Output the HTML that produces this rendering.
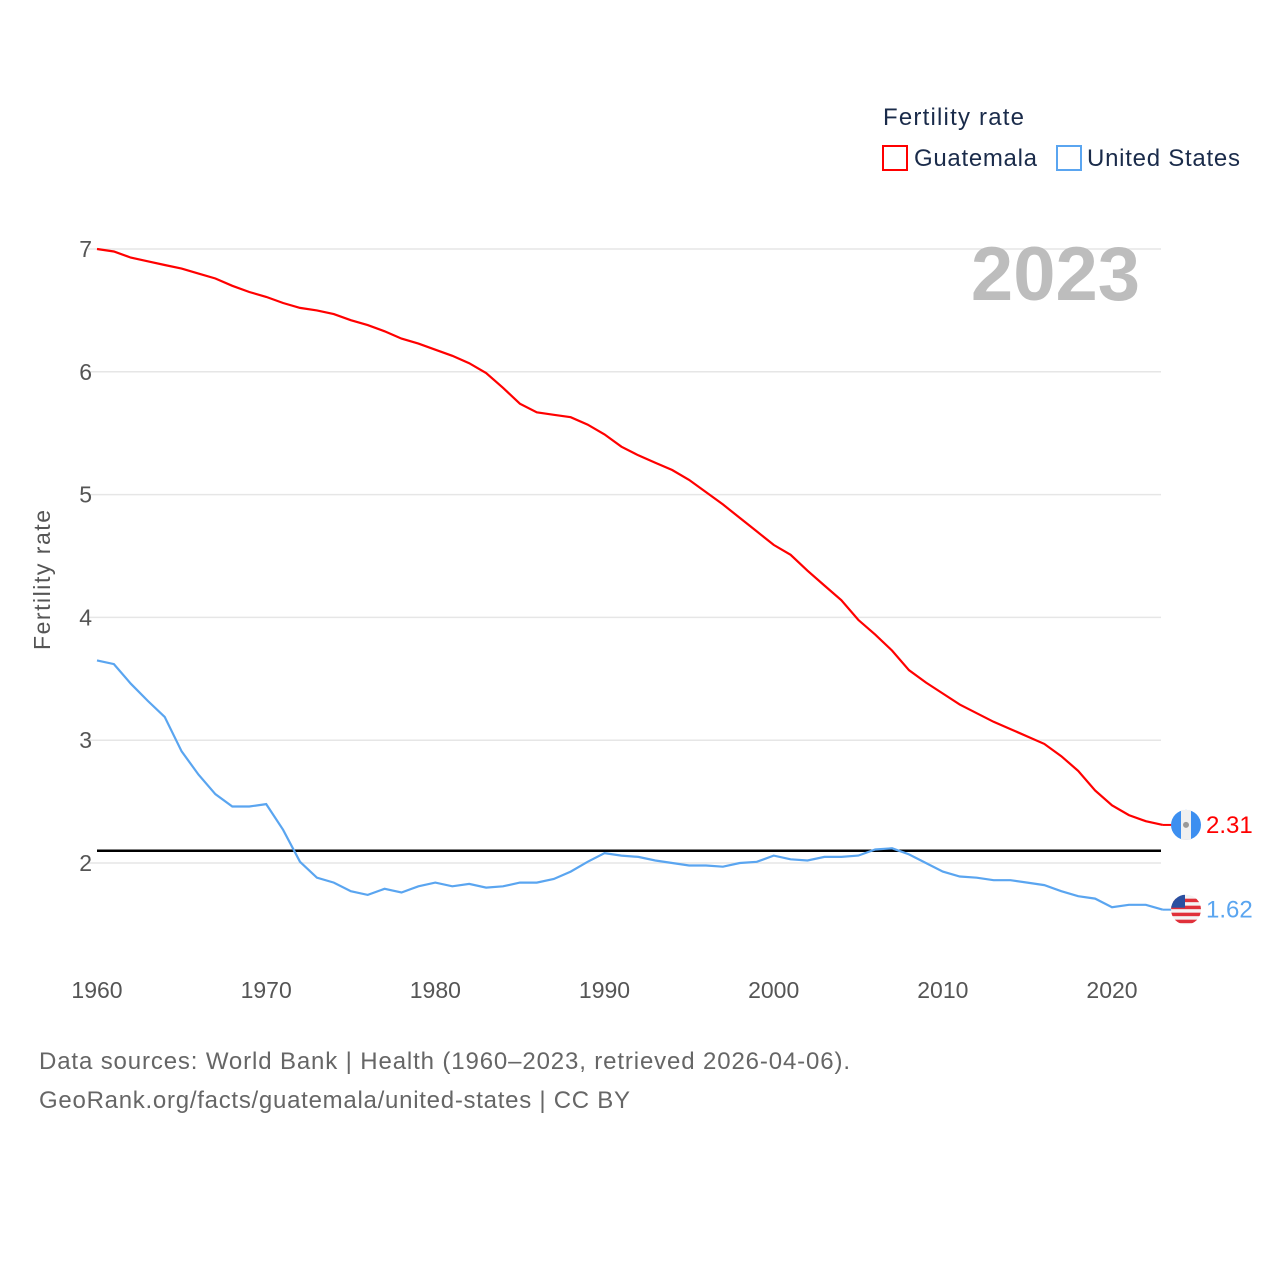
<!DOCTYPE html>
<html><head><meta charset="utf-8"><style>
body{margin:0;background:#fff;font-family:"Liberation Sans",sans-serif}
svg text{font-family:"Liberation Sans",sans-serif}
</style></head><body>
<svg width="1280" height="1280" viewBox="0 0 1280 1280">
<defs><clipPath id="usclip"><circle cx="1186" cy="909" r="15"/></clipPath></defs>
<g id="grid"></g>
<g id="yt"></g>
<g id="xt"></g>
<text transform="translate(50,580) rotate(-90)" text-anchor="middle" font-size="23" fill="#555" textLength="140">Fertility rate</text>
<text x="1140" y="300" text-anchor="end" font-size="76" font-weight="bold" fill="#bdbdbd">2023</text>
<text x="883" y="125" font-size="24" fill="#1a2b4a" textLength="141">Fertility rate</text>
<g><rect x="883" y="146" width="24" height="24" fill="none" stroke="#f00" stroke-width="2"/><text x="914" y="166" font-size="24" fill="#1a2b4a" textLength="123">Guatemala</text></g>
<g><rect x="1057" y="146" width="24" height="24" fill="none" stroke="#5aa5f0" stroke-width="2"/><text x="1087" y="166" font-size="24" fill="#1a2b4a" textLength="153">United States</text></g>
<line id="ref" stroke="#000" stroke-width="2.5"/>
<path id="gt" fill="none" stroke="#f00" stroke-width="2.2"/>
<path id="us" fill="none" stroke="#5aa5f0" stroke-width="2.2"/>
<g id="ends"></g>
<text x="39" y="1069" font-size="24" fill="#666" textLength="811">Data sources: World Bank | Health (1960–2023, retrieved 2026-04-06).</text>
<text x="39" y="1108" font-size="24" fill="#666" textLength="591">GeoRank.org/facts/guatemala/united-states | CC BY</text>
</svg>
<script>
const years=[];for(let y=1960;y<=2023;y++)years.push(y);
const guatemala=[7.0,6.98,6.93,6.90,6.87,6.84,6.80,6.76,6.70,6.65,6.61,6.56,6.52,6.50,6.47,6.42,6.38,6.33,6.27,6.23,6.18,6.13,6.07,5.99,5.87,5.74,5.67,5.65,5.63,5.57,5.49,5.39,5.32,5.26,5.20,5.12,5.02,4.92,4.81,4.70,4.59,4.51,4.38,4.26,4.14,3.98,3.86,3.73,3.57,3.47,3.38,3.29,3.22,3.15,3.09,3.03,2.97,2.87,2.75,2.59,2.47,2.39,2.34,2.31];
const unitedStates=[3.65,3.62,3.46,3.32,3.19,2.91,2.72,2.56,2.46,2.46,2.48,2.27,2.01,1.88,1.84,1.77,1.74,1.79,1.76,1.81,1.84,1.81,1.83,1.80,1.81,1.84,1.84,1.87,1.93,2.01,2.08,2.06,2.05,2.02,2.00,1.98,1.98,1.97,2.00,2.01,2.06,2.03,2.02,2.05,2.05,2.06,2.11,2.12,2.07,2.00,1.93,1.89,1.88,1.86,1.86,1.84,1.82,1.77,1.73,1.71,1.64,1.66,1.66,1.62];
const yTicks=[2,3,4,5,6,7];
const xTicks=[1960,1970,1980,1990,2000,2010,2020];
const refValue=2.1;
const X=y=>97+(y-1960)*(1112-97)/60;
const Y=v=>863-(v-2)*(863-249)/5;
const NS="http://www.w3.org/2000/svg";
function mk(t,a,p){const e=document.createElementNS(NS,t);for(const k in a)e.setAttribute(k,a[k]);p.appendChild(e);return e;}
const grid=document.getElementById('grid'),yt=document.getElementById('yt'),xt=document.getElementById('xt');
yTicks.forEach(v=>{
 const l=mk('line',{x1:88,x2:1161,y1:Y(v),y2:Y(v),stroke:'#e6e6e6','stroke-width':1.5},grid);
 
 
 const t=mk('text',{x:92,y:Y(v)+8,'text-anchor':'end','font-size':23,fill:'#555'},yt);t.textContent=v;
 
 
});
xTicks.forEach(v=>{
 const t=mk('text',{x:X(v),y:998,'text-anchor':'middle','font-size':23,fill:'#555'},xt);t.textContent=v;
 
 
});
const ref=document.getElementById('ref');
ref.setAttribute('x1',97);ref.setAttribute('x2',1161);ref.setAttribute('y1',Y(refValue));ref.setAttribute('y2',Y(refValue));
const path=a=>a.map((v,i)=>(i?'L':'M')+X(years[i]).toFixed(1)+','+Y(v).toFixed(1)).join('');
document.getElementById('gt').setAttribute('d',path(guatemala));
document.getElementById('us').setAttribute('d',path(unitedStates));
const ends=document.getElementById('ends');
function endMark(arr,col,name,flag){
 const v=arr[arr.length-1],cy=Y(v),cx=1186;
 const g=mk('g',{},ends);
 
 
 mk('line',{x1:X(2023),x2:cx-14,y1:cy,y2:cy,stroke:col,'stroke-width':2},g);
 if(flag==='gt'){
  mk('circle',{cx:cx,cy:cy,r:15,fill:'#3d8ff0'},g);
  mk('rect',{x:cx-5,y:cy-15,width:10,height:30,fill:'#f0f0f0'},g);
  mk('circle',{cx:cx,cy:cy,r:3,fill:'#999'},g);
 }else{
  document.querySelector('#usclip circle').setAttribute('cy',cy);
  const f=mk('g',{'clip-path':'url(#usclip)'},g);
  mk('circle',{cx:cx,cy:cy,r:15,fill:'#f4f4f4'},f);
  [-11,-4,3,10].forEach(d=>mk('rect',{x:cx-15,y:cy+d,width:30,height:3.5,fill:'#e0303a'},f));
  mk('rect',{x:cx-15,y:cy-15,width:14,height:13,fill:'#2a4fa0'},f);
 }
 const t=mk('text',{x:1206,y:cy+8,'font-size':24,fill:col},g);t.textContent=v.toFixed(2);
}
endMark(guatemala,'#f00','guatemala','gt');
endMark(unitedStates,'#5aa5f0','united-states','us');
</script>
</body></html>
